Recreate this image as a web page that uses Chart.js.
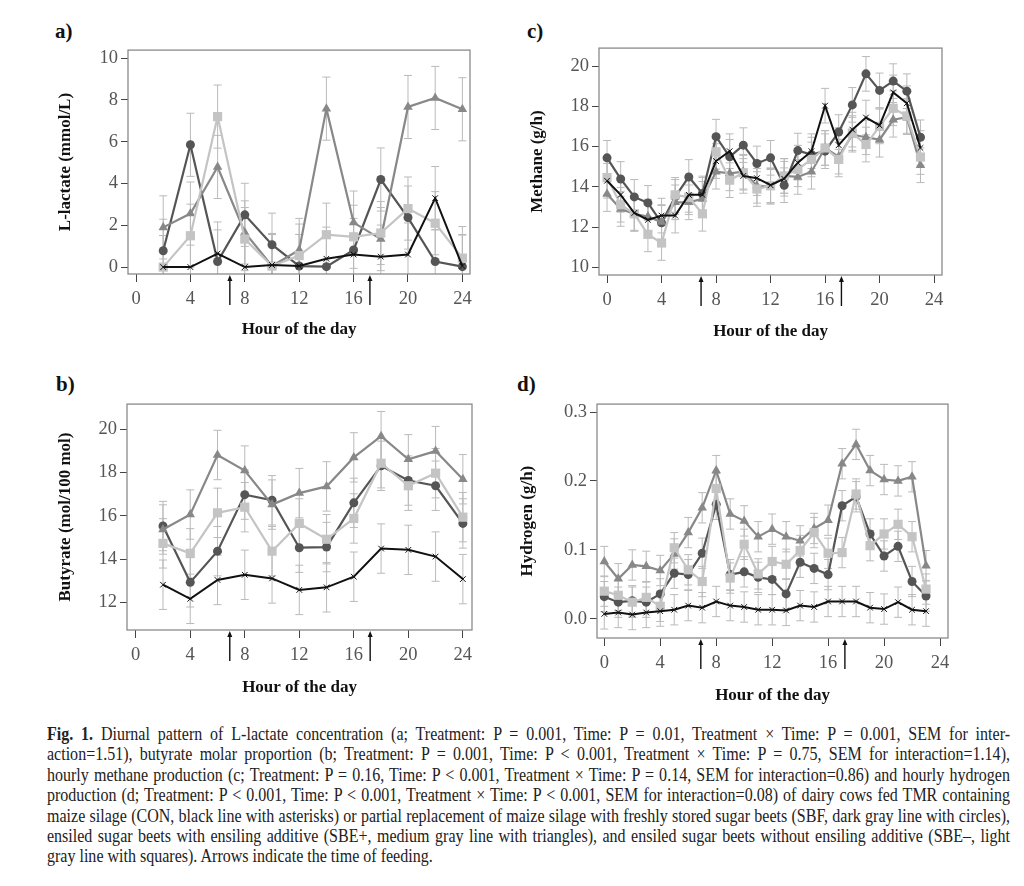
<!DOCTYPE html>
<html>
<head>
<meta charset="utf-8">
<script src="https://cdn.jsdelivr.net/npm/chart.js@4.4.0/dist/chart.umd.min.js"></script>
<style>
  body { margin: 0; background: #fff; width: 1024px; height: 886px; position: relative; overflow: hidden; font-family: "Liberation Serif", serif; }
  canvas { position: absolute; }
  .lbl { position: absolute; font-weight: bold; font-size: 21px; color: #111; line-height: 1; }
  #caption { position: absolute; left: 47px; top: 724px; width: 1082px; font-size: 18px; color: #222; transform: scaleX(0.89); transform-origin: 0 0; }
  #caption div { height: 20.4px; line-height: 20.4px; text-align: justify; text-align-last: justify; }
  #caption div.last { text-align-last: left; }
</style>
</head>
<body>
<div class="lbl" style="left:55px;top:21px">a)</div>
<div class="lbl" style="left:56px;top:374px">b)</div>
<div class="lbl" style="left:527px;top:21px">c)</div>
<div class="lbl" style="left:517px;top:374px">d)</div>
<canvas id="chartA"></canvas>
<canvas id="chartB"></canvas>
<canvas id="chartC"></canvas>
<canvas id="chartD"></canvas>
<div id="caption">
  <div><b>Fig. 1.</b> Diurnal pattern of L-lactate concentration (a; Treatment: P = 0.001, Time: P = 0.01, Treatment × Time: P = 0.001, SEM for inter-</div>
  <div>action=1.51), butyrate molar proportion (b; Treatment: P = 0.001, Time: P &lt; 0.001, Treatment × Time: P = 0.75, SEM for interaction=1.14),</div>
  <div>hourly methane production (c; Treatment: P = 0.16, Time: P &lt; 0.001, Treatment × Time: P = 0.14, SEM for interaction=0.86) and hourly hydrogen</div>
  <div>production (d; Treatment: P &lt; 0.001, Time: P &lt; 0.001, Treatment × Time: P &lt; 0.001, SEM for interaction=0.08) of dairy cows fed TMR containing</div>
  <div>maize silage (CON, black line with asterisks) or partial replacement of maize silage with freshly stored sugar beets (SBF, dark gray line with circles),</div>
  <div>ensiled sugar beets with ensiling additive (SBE+, medium gray line with triangles), and ensiled sugar beets without ensiling additive (SBE–, light</div>
  <div class="last">gray line with squares). Arrows indicate the time of feeding.</div>
</div>
<script>
// hours sampled
const hoursAB = [2, 4, 6, 8, 10, 12, 14, 16, 18, 20, 22, 24];
const hoursCD = [0, 1, 2, 3, 4, 5, 6, 7, 8, 9, 10, 11, 12, 13, 14, 15, 16, 17, 18, 19, 20, 21, 22, 23];
const xTicks = [0, 4, 8, 12, 16, 20, 24];
const feedHours = [6.9, 17.2];

// a) L-lactate (mmol/L)
const lacCON  = [0, 0, 0.65, 0, 0.1, 0.05, 0.4, 0.6, 0.5, 0.6, 3.3, 0.05];
const lacSBF  = [0.78, 5.85, 0.27, 2.5, 1.07, 0.05, 0.02, 0.82, 4.19, 2.37, 0.27, 0.02];
const lacSBEp = [1.9, 2.56, 4.79, 1.66, 0.05, 0.82, 7.58, 2.13, 1.34, 7.66, 8.09, 7.55];
const lacSBEm = [0, 1.5, 7.2, 1.34, 0.05, 0.55, 1.55, 1.45, 1.63, 2.8, 2.1, 0.43];
const lacTicks = [0, 2, 4, 6, 8, 10];
const lacSEM = 1.51;

// b) Butyrate (mol/100 mol)
const butCON  = [12.82, 12.17, 13.04, 13.28, 13.11, 12.58, 12.7, 13.19, 14.49, 14.43, 14.12, 13.08];
const butSBF  = [15.53, 12.93, 14.37, 16.98, 16.72, 14.53, 14.56, 16.6, 18.31, 17.63, 17.39, 15.65];
const butSBEp = [15.37, 16.06, 18.81, 18.09, 16.52, 17.05, 17.36, 18.7, 19.68, 18.61, 18.99, 17.69];
const butSBEm = [14.73, 14.27, 16.14, 16.4, 14.37, 15.65, 14.92, 15.88, 18.43, 17.39, 17.97, 15.94];
const butTicks = [12, 14, 16, 18, 20];
const butSEM = 1.14;

// c) Methane (g/h)
const metCON  = [14.3, 13.6, 12.7, 12.36, 12.57, 12.57, 13.6, 13.6, 15.28, 15.77, 14.54, 14.43, 14.08, 14.4, 15.2, 15.77, 18.03, 16.07, 16.84, 17.44, 17.05, 18.69, 18.15, 15.93];
const metSBF  = [15.44, 14.39, 13.5, 13.2, 12.21, 13.5, 14.49, 13.67, 16.49, 15.49, 16.07, 15.16, 15.44, 14.08, 15.8, 15.6, 15.77, 16.72, 18.07, 19.61, 18.79, 19.25, 18.75, 16.46];
const metSBEp = [13.64, 12.9, 12.66, 12.52, 12.25, 13.23, 13.23, 13.4, 14.75, 14.67, 14.75, 14.05, 14.0, 14.54, 14.49, 14.75, 15.93, 15.5, 16.59, 16.46, 16.34, 17.33, 17.46, 15.07];
const metSBEm = [14.46, 13.11, 12.66, 11.64, 11.21, 13.6, 13.48, 12.66, 15.74, 14.33, 14.7, 13.89, 14.05, 14.54, 14.87, 15.36, 15.93, 15.36, 16.67, 16.1, 17.0, 17.9, 17.52, 15.48];
const metTicks = [10, 12, 14, 16, 18, 20];
const metSEM = 0.86;

// d) Hydrogen (g/h)
const hydCON  = [0.007, 0.009, 0.006, 0.009, 0.011, 0.013, 0.019, 0.016, 0.025, 0.019, 0.017, 0.013, 0.013, 0.012, 0.019, 0.017, 0.025, 0.025, 0.025, 0.016, 0.014, 0.024, 0.013, 0.011];
const hydSBF  = [0.032, 0.024, 0.026, 0.024, 0.036, 0.066, 0.064, 0.095, 0.166, 0.064, 0.068, 0.06, 0.057, 0.036, 0.082, 0.073, 0.064, 0.164, 0.177, 0.123, 0.091, 0.105, 0.054, 0.033];
const hydSBEp = [0.083, 0.058, 0.078, 0.076, 0.07, 0.094, 0.125, 0.161, 0.215, 0.152, 0.142, 0.119, 0.13, 0.119, 0.113, 0.131, 0.143, 0.225, 0.253, 0.215, 0.202, 0.2, 0.206, 0.077];
const hydSBEm = [0.04, 0.034, 0.024, 0.031, 0.018, 0.103, 0.071, 0.054, 0.189, 0.059, 0.108, 0.065, 0.083, 0.079, 0.099, 0.125, 0.095, 0.096, 0.181, 0.106, 0.123, 0.137, 0.119, 0.043];
const hydTicks = [0, 0.1, 0.2, 0.3];
const hydSEM = 0.022;

const FONT = '"Liberation Serif", "Times New Roman", serif';

// line / marker look of each treatment
const styles = {
  CON:  { color: '#111111', pointStyle: 'crossRot', pointRadius: 4, borderWidth: 2, pointBorderWidth: 1 },
  SBEm: { color: '#c4c4c4', pointStyle: 'rect', pointRadius: 6.5, borderWidth: 2.2, pointBorderWidth: 0 },
  SBEp: { color: '#888888', pointStyle: 'triangle', pointRadius: 5.5, borderWidth: 2.2, pointBorderWidth: 0 },
  SBF:  { color: '#555555', pointStyle: 'circle', pointRadius: 4.5, borderWidth: 2.2, pointBorderWidth: 0 },
};

const errorBars = {
  id: 'errorBars',
  beforeDatasetsDraw(chart, args, opts) {
    const { ctx, chartArea } = chart;
    const y = chart.scales.y;
    ctx.save();
    ctx.beginPath();
    ctx.rect(chartArea.left, chartArea.top, chartArea.right - chartArea.left, chartArea.bottom - chartArea.top);
    ctx.clip();
    ctx.strokeStyle = '#bababa';
    ctx.lineWidth = 1;
    chart.data.datasets.forEach((ds, i) => {
      chart.getDatasetMeta(i).data.forEach((pt, j) => {
        const v = ds.data[j].y;
        const top = y.getPixelForValue(v + opts.sem);
        const bot = y.getPixelForValue(v - opts.sem);
        ctx.beginPath();
        ctx.moveTo(pt.x, top); ctx.lineTo(pt.x, bot);
        ctx.moveTo(pt.x - 4, top); ctx.lineTo(pt.x + 4, top);
        ctx.moveTo(pt.x - 4, bot); ctx.lineTo(pt.x + 4, bot);
        ctx.stroke();
      });
    });
    ctx.restore();
  }
};

const frame = {
  id: 'frame',
  afterDraw(chart) {
    const { ctx, chartArea: a } = chart;
    ctx.save();
    ctx.strokeStyle = '#8a8a8a';
    ctx.lineWidth = 1.3;
    ctx.strokeRect(a.left, a.top, a.right - a.left, a.bottom - a.top);
    // feeding arrows
    ctx.strokeStyle = '#111';
    ctx.fillStyle = '#111';
    ctx.lineWidth = 1.4;
    feedHours.forEach(h => {
      const x = chart.scales.x.getPixelForValue(h);
      ctx.beginPath();
      ctx.moveTo(x, a.bottom + 31);
      ctx.lineTo(x, a.bottom + 4);
      ctx.stroke();
      ctx.beginPath();
      ctx.moveTo(x, a.bottom + 1);
      ctx.lineTo(x - 2.5, a.bottom + 7);
      ctx.lineTo(x + 2.5, a.bottom + 7);
      ctx.closePath();
      ctx.fill();
    });
    ctx.restore();
  }
};

function series(key, hours, values) {
  const s = styles[key];
  return {
    label: key,
    data: hours.map((h, i) => ({ x: h, y: values[i] })),
    borderColor: s.color,
    backgroundColor: s.color,
    pointBackgroundColor: s.color,
    pointBorderColor: s.color,
    pointStyle: s.pointStyle,
    pointRadius: s.pointRadius,
    pointBorderWidth: s.pointBorderWidth,
    borderWidth: s.borderWidth,
    tension: 0,
  };
}

function panel(id, box, spec) {
  const left = spec.yTitleX - 10, top = box.T - 12, right = box.R + 12, bottom = spec.xTitleY + 10;
  const cv = document.getElementById(id);
  cv.width = right - left;
  cv.height = bottom - top;
  cv.style.left = left + 'px';
  cv.style.top = top + 'px';
  const tickFont = { family: FONT, size: 18.5 };
  const titleFont = { family: FONT, size: 17, weight: 'bold' };
  new Chart(cv, {
    type: 'line',
    data: { datasets: spec.datasets },
    options: {
      responsive: false,
      animation: false,
      layout: { padding: { top: 12, right: 12, left: 0, bottom: 0 } },
      plugins: { legend: { display: false }, tooltip: { enabled: false }, errorBars: { sem: spec.sem } },
      scales: {
        x: {
          type: 'linear', min: spec.xMin, max: spec.xMax,
          afterBuildTicks: s => { s.ticks = xTicks.map(v => ({ value: v })); },
          afterFit: s => { s.height = bottom - box.B; },
          grid: { drawOnChartArea: false, tickLength: 8, color: '#444' },
          border: { display: false },
          ticks: { font: tickFont, color: '#555', padding: 6, maxRotation: 0, autoSkip: false },
          title: { display: true, text: 'Hour of the day', font: titleFont, color: '#111', padding: 0 },
        },
        y: {
          min: spec.yMin, max: spec.yMax,
          afterBuildTicks: s => { s.ticks = spec.yTicks.map(v => ({ value: v })); },
          afterFit: s => { s.width = box.L - left; },
          grid: { drawOnChartArea: false, tickLength: 7, color: '#444' },
          border: { display: false },
          ticks: { font: tickFont, color: '#555', padding: 3, autoSkip: false, callback: spec.yFmt || (v => v) },
          title: { display: true, text: spec.yTitle, font: titleFont, color: '#111', padding: 0 },
        },
      },
    },
    plugins: [errorBars, frame],
  });
}

panel('chartA', { L: 128, T: 48, R: 470, B: 274 }, {
  yTitleX: 65, xTitleY: 330, xMin: -0.59, xMax: 24.56, yMin: -0.33, yMax: 10.38,
  yTicks: lacTicks, yTitle: 'L-lactate (mmol/L)', sem: lacSEM,
  datasets: [series('CON', hoursAB, lacCON), series('SBEm', hoursAB, lacSBEm), series('SBEp', hoursAB, lacSBEp), series('SBF', hoursAB, lacSBF)],
});
panel('chartB', { L: 127, T: 402, R: 472, B: 630 }, {
  yTitleX: 65, xTitleY: 688, xMin: -0.64, xMax: 24.67, yMin: 10.73, yMax: 21.16,
  yTicks: butTicks, yTitle: 'Butyrate (mol/100 mol)', sem: butSEM,
  datasets: [series('CON', hoursAB, butCON), series('SBEm', hoursAB, butSBEm), series('SBEp', hoursAB, butSBEp), series('SBF', hoursAB, butSBF)],
});
panel('chartC', { L: 599, T: 46, R: 942, B: 275 }, {
  yTitleX: 537, xTitleY: 332, xMin: -0.59, xMax: 24.58, yMin: 9.62, yMax: 20.89,
  yTicks: metTicks, yTitle: 'Methane (g/h)', sem: metSEM,
  datasets: [series('CON', hoursCD, metCON), series('SBEm', hoursCD, metSBEm), series('SBEp', hoursCD, metSBEp), series('SBF', hoursCD, metSBF)],
});
panel('chartD', { L: 597, T: 402, R: 948, B: 638 }, {
  yTitleX: 527, xTitleY: 696, xMin: -0.52, xMax: 24.57, yMin: -0.028, yMax: 0.3115,
  yTicks: hydTicks, yTitle: 'Hydrogen (g/h)', sem: hydSEM, yFmt: v => v.toFixed(1),
  datasets: [series('CON', hoursCD, hydCON), series('SBEm', hoursCD, hydSBEm), series('SBEp', hoursCD, hydSBEp), series('SBF', hoursCD, hydSBF)],
});
</script>
</body>
</html>
